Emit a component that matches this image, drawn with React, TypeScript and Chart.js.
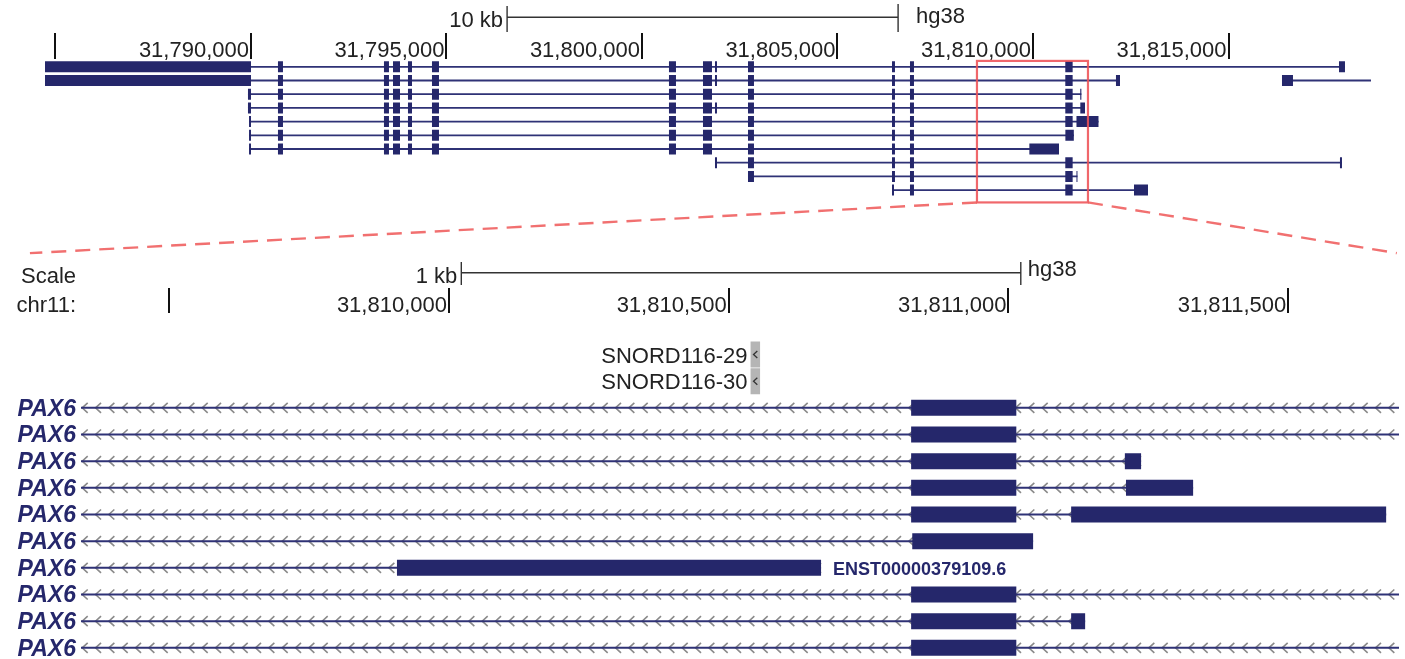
import React, { useEffect, useRef } from 'react';
import { Chart, registerables } from 'chart.js';

Chart.register(...registerables);

// ---------- data (genomic coordinates, chr11, hg38) ----------
const EX_A = [31790690, 31790818];
const EX_B = [31793401, 31793529];
const EX_C = [31793632, 31793811];
const EX_D = [31794015, 31794118];
const EX_E = [31794629, 31794808];
const EX_F = [31800690, 31800869];
const EX_G = [31801560, 31801790];
const EX_H = [31801867, 31801918];
const EX_I = [31802711, 31802864];
const EX_J = [31806394, 31806470];
const EX_K = [31806854, 31806956];
const EX_L = [31810826, 31811014];

const TX_ROW = [0, 1, 2, 3, 4, 5, 6, 7, 8, 9, 1];
const TX_START = [31784732, 31784732, 31789923, 31789923, 31789950, 31789950, 31789950, 31801867, 31802711, 31806394, 31816368];
const TX_END = [31817979, 31812225, 31811237, 31811330, 31811675, 31811044, 31810665, 31817902, 31811137, 31812941, 31818644];
const TX_EXONS: number[][][] = [
  [[31784732, 31790000], EX_A, EX_B, EX_C, EX_D, EX_E, EX_F, EX_G, EX_H, EX_I, EX_J, EX_K, EX_L, [31817826, 31817979]],
  [[31784732, 31790000], EX_A, EX_B, EX_C, EX_D, EX_E, EX_F, EX_G, EX_H, EX_I, EX_J, EX_K, EX_L, [31812122, 31812225]],
  [[31789923, 31790000], EX_A, EX_B, EX_C, EX_D, EX_E, EX_F, EX_G, EX_I, EX_J, EX_K, EX_L, [31811208, 31811237]],
  [[31789923, 31790000], EX_A, EX_B, EX_C, EX_D, EX_E, EX_F, EX_G, EX_H, EX_I, EX_J, EX_K, EX_L, [31811210, 31811330]],
  [[31789950, 31790000], EX_A, EX_B, EX_C, EX_D, EX_E, EX_F, EX_G, EX_I, EX_J, EX_K, EX_L, [31811112, 31811675]],
  [[31789950, 31790000], EX_A, EX_B, EX_C, EX_D, EX_E, EX_F, EX_G, EX_I, EX_J, EX_K, [31810828, 31811044]],
  [[31789950, 31790000], EX_A, EX_B, EX_C, EX_D, EX_E, EX_F, EX_G, EX_I, EX_J, EX_K, [31809907, 31810665]],
  [EX_H, EX_I, EX_J, EX_K, EX_L, [31817851, 31817902]],
  [EX_I, EX_J, EX_K, EX_L, [31811112, 31811137]],
  [[31806394, 31806445], EX_K, EX_L, [31812583, 31812941]],
  [[31816368, 31816649]],
];

const GENE_LABELS = ['PAX6', 'PAX6', 'PAX6', 'PAX6', 'PAX6', 'PAX6', 'PAX6', 'PAX6', 'PAX6', 'PAX6'];
const ID_LABEL = 'ENST00000379109.6';
const ID_LABEL_ROW = 6;

const SNORD_NAMES = ['SNORD116-29', 'SNORD116-30'];
const SNORD_ROWS = [-2, -1];
const SNORD_START = [31810539, 31810539];
const SNORD_END = [31810556, 31810556];

const TOP_TICKS = [31785000, 31790000, 31795000, 31800000, 31805000, 31810000, 31815000];
const TOP_TICK_LABELS = ['', '31,790,000', '31,795,000', '31,800,000', '31,805,000', '31,810,000', '31,815,000'];
const BOT_TICKS = [31809500, 31810000, 31810500, 31811000, 31811500];
const BOT_TICK_LABELS = ['', '31,810,000', '31,810,500', '31,811,000', '31,811,500'];

const TOP_SCALEBAR = [31796550, 31806550];
const TOP_SCALEBAR_LABEL = '10 kb';
const BOT_SCALEBAR = [31810022, 31811022];
const BOT_SCALEBAR_LABEL = '1 kb';
const ASSEMBLY = 'hg38';
const SCALE_LABEL = 'Scale';
const CHROM_LABEL = 'chr11:';

const ZOOM_BOX = [31808567, 31811406];
const ZOOM_TARGET = [31809251, 31811694];

// ---------- style ----------
const W = 1405;
const H = 659;
const NAVY = '#25276b';
const INTRON = '#2f3276';
const TEXT = '#222222';
const RED = 'rgba(238, 82, 86, 0.88)';
const RED_DASH = 'rgba(240, 96, 96, 0.9)';
const FONT = '"Liberation Sans", Arial, Helvetica, sans-serif';
const BOT_LEFT = 81;
const BOT_RIGHT = 1399;
const CHEV_X0 = 81.7;
const CHEV_STEP = 13.333;
const CHEV_W = 6;

function segs(pairs: number[][], row: number) {
  const out: { x: number; y: number | null }[] = [];
  for (const p of pairs) {
    out.push({ x: p[0], y: row }, { x: p[1], y: row }, { x: p[1], y: null });
  }
  return out;
}

const intronPairs = TX_ROW.map((_, i) => [TX_START[i], TX_END[i]]);
const intronData = TX_ROW.flatMap((row, i) => segs([intronPairs[i]], row));
const exonData = TX_ROW.flatMap((row, i) => segs(TX_EXONS[i], row));
const snordData = SNORD_ROWS.flatMap((row, i) => segs([[SNORD_START[i], SNORD_END[i]]], row));

const botClip = { left: -BOT_LEFT, right: -(W - BOT_RIGHT), top: false, bottom: false };

const genomePlugin = {
  id: 'genomeBrowser',
  beforeDatasetsDraw(chart: any) {
    const ctx = chart.ctx;
    const xb = chart.scales.xBot;
    const yb = chart.scales.yBot;
    ctx.save();
    ctx.beginPath();
    ctx.rect(BOT_LEFT, 0, BOT_RIGHT - BOT_LEFT, H);
    ctx.clip();
    ctx.strokeStyle = '#8a8a8a';
    ctx.lineWidth = 1.6;
    ctx.lineCap = 'butt';
    ctx.lineJoin = 'miter';
    TX_ROW.forEach((row, i) => {
      const a = Math.max(xb.getPixelForValue(TX_START[i]), BOT_LEFT);
      const b = Math.min(xb.getPixelForValue(TX_END[i]), BOT_RIGHT);
      if (b <= a) return;
      const y = yb.getPixelForValue(row);
      for (let x = CHEV_X0; x + CHEV_W <= b + 0.5; x += CHEV_STEP) {
        if (x < a - 0.5) continue;
        ctx.beginPath();
        ctx.moveTo(x + CHEV_W, y - 5);
        ctx.lineTo(x + 0.5, y);
        ctx.lineTo(x + CHEV_W, y + 5);
        ctx.stroke();
      }
    });
    ctx.restore();
  },
  afterDatasetsDraw(chart: any) {
    const ctx = chart.ctx;
    const xt = chart.scales.xTop;
    const yt = chart.scales.yTop;
    const xb = chart.scales.xBot;
    const yb = chart.scales.yBot;
    ctx.save();
    ctx.fillStyle = TEXT;
    ctx.strokeStyle = TEXT;
    ctx.font = `22px ${FONT}`;
    ctx.textBaseline = 'alphabetic';

    // ---- top scale bar ----
    const t0 = xt.getPixelForValue(TOP_SCALEBAR[0]);
    const t1 = xt.getPixelForValue(TOP_SCALEBAR[1]);
    ctx.lineWidth = 1.4;
    ctx.strokeStyle = '#333';
    ctx.beginPath();
    ctx.moveTo(t0, 17.3); ctx.lineTo(t1, 17.3);
    ctx.moveTo(t0, 6); ctx.lineTo(t0, 32);
    ctx.moveTo(t1, 4); ctx.lineTo(t1, 32);
    ctx.stroke();
    ctx.textAlign = 'right';
    ctx.fillText(TOP_SCALEBAR_LABEL, t0 - 4, 27.4);
    ctx.textAlign = 'left';
    ctx.fillText(ASSEMBLY, t1 + 18, 22.5);

    // ---- top ruler ----
    TOP_TICKS.forEach((v, i) => {
      const x = xt.getPixelForValue(v);
      ctx.fillStyle = '#111';
      ctx.fillRect(Math.round(x) - 1, 33, 2, 26);
      ctx.fillStyle = TEXT;
      ctx.textAlign = 'right';
      if (TOP_TICK_LABELS[i]) ctx.fillText(TOP_TICK_LABELS[i], x - 2, 57);
    });

    // ---- bottom header ----
    ctx.textAlign = 'right';
    ctx.fillText(SCALE_LABEL, 76, 283);
    ctx.fillText(CHROM_LABEL, 76, 312);
    const b0 = xb.getPixelForValue(BOT_SCALEBAR[0]);
    const b1 = xb.getPixelForValue(BOT_SCALEBAR[1]);
    ctx.strokeStyle = '#333';
    ctx.lineWidth = 1.4;
    ctx.beginPath();
    ctx.moveTo(b0, 272.7); ctx.lineTo(b1, 272.7);
    ctx.moveTo(b0, 262); ctx.lineTo(b0, 285);
    ctx.moveTo(b1, 262); ctx.lineTo(b1, 285);
    ctx.stroke();
    ctx.textAlign = 'right';
    ctx.fillText(BOT_SCALEBAR_LABEL, b0 - 4, 283);
    ctx.textAlign = 'left';
    ctx.fillText(ASSEMBLY, b1 + 7, 275.5);

    BOT_TICKS.forEach((v, i) => {
      const x = xb.getPixelForValue(v);
      ctx.fillStyle = '#111';
      ctx.fillRect(Math.round(x) - 1, 288, 2, 25);
      ctx.fillStyle = TEXT;
      ctx.textAlign = 'right';
      if (BOT_TICK_LABELS[i]) ctx.fillText(BOT_TICK_LABELS[i], x - 2, 312);
    });

    // ---- SNORD labels ----
    SNORD_NAMES.forEach((name, i) => {
      const y = yb.getPixelForValue(SNORD_ROWS[i]);
      const xs = xb.getPixelForValue(SNORD_START[i]);
      const xe = xb.getPixelForValue(SNORD_END[i]);
      ctx.fillStyle = TEXT;
      ctx.textAlign = 'right';
      ctx.fillText(name, xs - 3, y + 8.3);
      const cx = (xs + xe) / 2;
      ctx.strokeStyle = '#333';
      ctx.lineWidth = 1.3;
      ctx.beginPath();
      ctx.moveTo(cx + 2, y - 3.5);
      ctx.lineTo(cx - 1.8, y);
      ctx.lineTo(cx + 2, y + 3.5);
      ctx.stroke();
    });

    // ---- gene labels ----
    ctx.fillStyle = NAVY;
    ctx.font = `italic bold 23px ${FONT}`;
    ctx.textAlign = 'right';
    GENE_LABELS.forEach((lab, r) => {
      ctx.fillText(lab, 76, yb.getPixelForValue(r) + 7.8);
    });
    const idEx = TX_EXONS[ID_LABEL_ROW][TX_EXONS[ID_LABEL_ROW].length - 1];
    ctx.font = `bold 18px ${FONT}`;
    ctx.textAlign = 'left';
    ctx.fillText(ID_LABEL, xb.getPixelForValue(idEx[1]) + 12, yb.getPixelForValue(ID_LABEL_ROW) + 6.8);

    // ---- zoom box and guide lines ----
    const zx0 = xt.getPixelForValue(ZOOM_BOX[0]);
    const zx1 = xt.getPixelForValue(ZOOM_BOX[1]);
    const zy0 = yt.getPixelForValue(-0.43);
    const zy1 = yt.getPixelForValue(9.9);
    ctx.strokeStyle = RED;
    ctx.lineWidth = 2.2;
    ctx.strokeRect(zx0, zy0, zx1 - zx0, zy1 - zy0);
    const tY = yb.getPixelForValue(-5.8);
    ctx.strokeStyle = RED_DASH;
    ctx.lineWidth = 2.4;
    ctx.setLineDash([15, 9]);
    ctx.beginPath();
    ctx.moveTo(zx0, zy1); ctx.lineTo(xb.getPixelForValue(ZOOM_TARGET[0]), tY);
    ctx.moveTo(zx1, zy1); ctx.lineTo(xb.getPixelForValue(ZOOM_TARGET[1]), tY);
    ctx.stroke();
    ctx.setLineDash([]);
    ctx.restore();
  },
};

export default function App() {
  const ref = useRef<HTMLCanvasElement | null>(null);
  useEffect(() => {
    if (!ref.current) return;
    const common = { pointRadius: 0, pointHoverRadius: 0, tension: 0, spanGaps: false, borderCapStyle: 'butt' as const };
    const chart = new Chart(ref.current, {
      type: 'line',
      data: {
        datasets: [
          { ...common, data: intronData, xAxisID: 'xTop', yAxisID: 'yTop', borderColor: INTRON, borderWidth: 1.8, order: 3, clip: false },
          { ...common, data: exonData, xAxisID: 'xTop', yAxisID: 'yTop', borderColor: NAVY, borderWidth: 11, order: 0, clip: false },
          { ...common, data: intronData, xAxisID: 'xBot', yAxisID: 'yBot', borderColor: INTRON, borderWidth: 2, order: 3, clip: botClip },
          { ...common, data: exonData, xAxisID: 'xBot', yAxisID: 'yBot', borderColor: NAVY, borderWidth: 16, order: 0, clip: botClip },
          { ...common, data: snordData, xAxisID: 'xBot', yAxisID: 'yBot', borderColor: '#b5b5b5', borderWidth: 26, order: 1, clip: botClip },
        ] as any,
      },
      options: {
        animation: false,
        responsive: false,
        maintainAspectRatio: false,
        devicePixelRatio: 1,
        events: [],
        layout: { padding: 0 },
        plugins: { legend: { display: false }, tooltip: { enabled: false } },
        scales: {
          xTop: { type: 'linear', axis: 'x', display: false, min: 31783581, max: 31819514 },
          yTop: { type: 'linear', axis: 'y', display: false, min: -4.876, max: 43.226, reverse: true },
          xBot: { type: 'linear', axis: 'x', display: false, min: 31809197.5, max: 31811708.7 },
          yBot: { type: 'linear', axis: 'y', display: false, min: -15.291, max: 9.418, reverse: true },
        } as any,
      },
      plugins: [genomePlugin],
    });
    return () => chart.destroy();
  }, []);
  return (
    <div style={{ position: 'fixed', left: 0, top: 0, width: W, height: H, background: '#fff' }}>
      <canvas ref={ref} width={W} height={H} style={{ display: 'block', width: W, height: H }} />
    </div>
  );
}
